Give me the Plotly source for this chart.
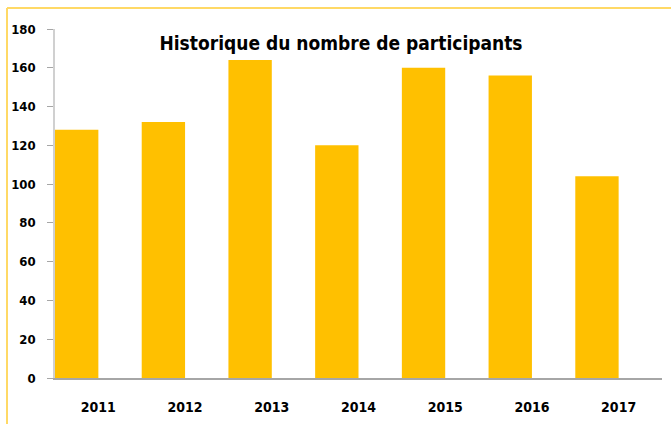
import plotly.graph_objects as go

years = ["2011", "2012", "2013", "2014", "2015", "2016", "2017"]
participants = [128, 132, 164, 120, 160, 156, 104]
y_ticks = [0, 20, 40, 60, 80, 100, 120, 140, 160, 180]
title_text = "Historique du nombre de participants"

FONT = "DejaVu Sans Condensed, Liberation Sans Narrow, sans-serif"

W, H = 671, 424
L, R, T, B = 55, 9, 29, 46
pw, ph = W - L - R, H - T - B

def px_x(x):
    return (x - L) / pw

def px_y(y):
    return (H - B - y) / ph

fig = go.Figure(go.Bar(
    x=years, y=participants,
    marker=dict(color="#FFC000", line=dict(width=0)),
    width=0.5, offset=-0.5,
))

fig.update_layout(
    width=W, height=H,
    margin=dict(l=L, r=R, t=T, b=B, autoexpand=False),
    paper_bgcolor="white", plot_bgcolor="white",
    showlegend=False,
    font=dict(family=FONT, color="black"),
    title=dict(
        text=title_text,
        x=341 / W, xanchor="center", xref="container",
        y=1 - 43 / H, yanchor="middle", yref="container",
        font=dict(family=FONT, size=19, color="black", weight="bold"),
        automargin=False,
    ),
    xaxis=dict(
        type="category", range=[-0.5, 6.5], automargin=False,
        showline=True, linecolor="#A6A6A6", linewidth=1.5,
        ticks="", showgrid=False, zeroline=False,
        tickfont=dict(family=FONT, size=14, color="black", weight="bold"),
        ticklabelstandoff=15,
    ),
    yaxis=dict(
        range=[0, 180], tickvals=y_ticks, automargin=False,
        showline=True, linecolor="#D0D0D0", linewidth=1.5,
        ticks="outside", ticklen=6, tickcolor="#A6A6A6", tickwidth=1,
        showgrid=False, zeroline=False,
        tickfont=dict(family=FONT, size=13, color="black", weight="bold"),
        ticklabelstandoff=9,
    ),
    shapes=[
        dict(type="line", xref="paper", yref="paper",
             x0=px_x(7), x1=px_x(W + 5), y0=px_y(8), y1=px_y(8),
             line=dict(color="#FFD966", width=2)),
        dict(type="line", xref="paper", yref="paper",
             x0=px_x(7), x1=px_x(7), y0=px_y(8), y1=px_y(H + 5),
             line=dict(color="#FFD966", width=2)),
    ],
)

fig.write_html(
    "out.html",
    config={"displayModeBar": False},
    post_script="document.body.style.margin='0';document.body.style.overflow='hidden';",
)
